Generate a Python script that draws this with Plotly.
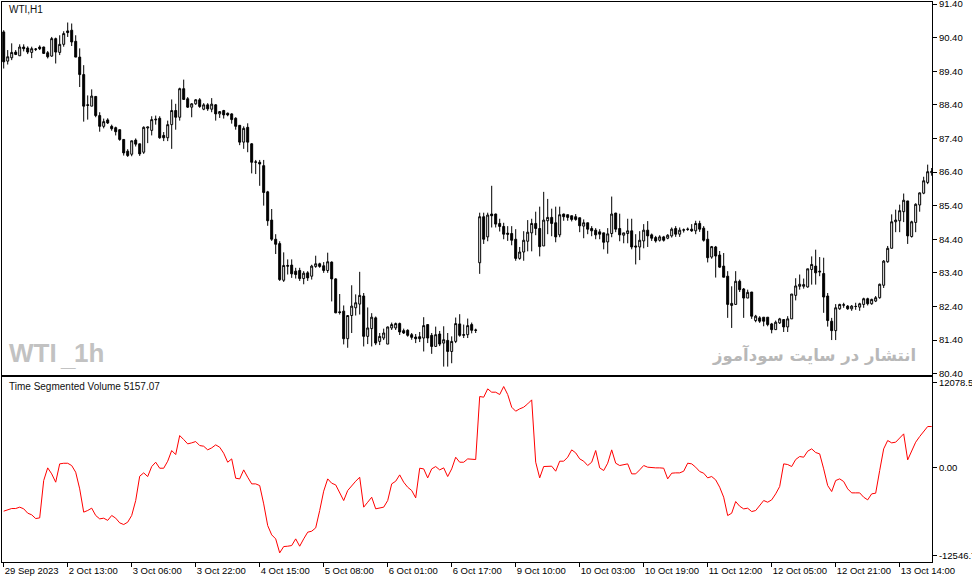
import plotly.graph_objects as go

# WTI, H1 candles (29 Sep 2023 - 13 Oct 2023)
opens = [
    90.57, 89.70, 89.80, 89.97, 89.86, 90.12, 90.09, 89.96, 90.05, 90.12,
    90.12, 89.95, 89.85, 90.37, 89.96, 90.20, 90.60, 90.62, 90.29, 89.82,
    89.30, 88.38, 88.36, 88.65, 88.08, 87.76, 87.95, 87.76, 87.72, 87.66,
    87.37, 87.02, 86.93, 87.35, 87.24, 86.99, 87.71, 87.64, 87.95, 88.00,
    87.49, 87.42, 87.81, 88.23, 88.03, 88.88, 88.58, 88.33, 88.43, 88.55,
    88.27, 88.40, 88.27, 88.40, 88.13, 88.23, 88.15, 88.13, 88.00, 87.79,
    87.29, 87.73, 87.24, 86.69, 86.69, 86.59, 85.81, 84.97, 84.40, 84.27,
    83.18, 83.62, 83.63, 83.45, 83.47, 83.23, 83.40, 83.30, 83.59, 83.67,
    83.61, 83.47, 83.72, 83.22, 82.24, 82.26, 81.44, 82.13, 82.36, 82.47,
    82.71, 81.51, 81.74, 82.06, 81.36, 81.46, 81.28, 81.76, 81.76, 81.89,
    81.68, 81.69, 81.56, 81.49, 81.50, 81.46, 81.86, 81.54, 81.21, 81.58,
    81.31, 81.39, 81.06, 81.36, 81.88, 81.54, 81.56, 81.86, 81.70, 83.70,
    85.07, 84.47, 85.15, 85.15, 84.87, 84.78, 84.58, 84.57, 84.40, 83.83,
    84.02, 84.34, 84.59, 84.87, 84.72, 84.20, 84.95, 85.05, 84.89, 84.53,
    85.15, 85.13, 85.10, 85.07, 85.04, 84.79, 84.89, 84.72, 84.67, 84.62,
    84.59, 84.32, 84.57, 85.18, 84.72, 84.52, 84.57, 84.65, 84.20, 84.17,
    84.35, 84.67, 84.53, 84.45, 84.37, 84.47, 84.43, 84.50, 84.72, 84.55,
    84.67, 84.69, 84.70, 84.65, 84.87, 84.73, 84.40, 83.87, 84.17, 83.93,
    83.60, 83.30, 82.43, 82.46, 83.15, 82.92, 82.65, 82.83, 81.98, 82.06,
    82.08, 82.08, 81.88, 81.71, 81.91, 82.01, 81.79, 82.03, 82.73, 83.00,
    83.00, 82.98, 83.50, 83.60, 83.45, 83.38, 82.71, 81.96, 81.68, 82.33,
    82.45, 82.41, 82.33, 82.40, 82.38, 82.46, 82.63, 82.48, 82.56, 82.66,
    83.03, 83.73, 84.13, 84.92, 84.95, 85.22, 85.54, 84.48, 84.90, 85.42,
    85.77, 86.09, 86.38,
]
highs = [
    90.62, 90.03, 90.23, 90.03, 90.20, 90.20, 90.14, 90.13, 90.09, 90.17,
    90.13, 90.00, 90.42, 90.40, 90.47, 90.59, 90.85, 90.82, 90.47, 90.08,
    89.58, 88.68, 88.86, 88.65, 88.18, 87.99, 88.00, 87.81, 87.75, 87.66,
    87.37, 87.08, 87.33, 87.40, 87.24, 87.76, 87.74, 88.06, 88.08, 88.06,
    87.59, 87.93, 88.56, 88.43, 88.91, 89.15, 88.63, 88.45, 88.57, 88.60,
    88.45, 88.45, 88.60, 88.42, 88.20, 88.25, 88.17, 88.15, 88.03, 87.79,
    87.76, 87.85, 87.26, 86.76, 86.76, 86.76, 85.84, 85.30, 84.55, 84.34,
    84.01, 83.80, 83.80, 83.55, 83.55, 83.45, 83.45, 83.64, 83.91, 83.70,
    83.72, 84.00, 83.74, 83.24, 82.77, 82.43, 82.13, 83.03, 82.76, 83.43,
    82.80, 82.37, 82.20, 82.10, 81.61, 81.74, 81.80, 81.92, 81.92, 81.92,
    81.74, 81.72, 81.61, 81.58, 81.64, 82.08, 81.86, 81.61, 81.80, 81.67,
    81.81, 81.61, 81.51, 82.07, 82.17, 81.86, 82.04, 81.92, 81.74, 85.19,
    85.19, 85.19, 85.99, 85.16, 85.01, 84.89, 84.79, 84.79, 84.70, 84.17,
    84.64, 84.97, 85.01, 85.22, 85.37, 85.81, 85.60, 85.31, 85.37, 85.37,
    85.16, 85.13, 85.10, 85.15, 85.04, 84.99, 84.89, 84.79, 84.73, 84.70,
    84.59, 84.73, 85.67, 85.18, 85.16, 84.59, 85.01, 85.01, 84.55, 84.64,
    84.85, 84.94, 84.57, 84.50, 84.52, 84.50, 84.55, 84.75, 84.79, 84.75,
    84.72, 84.75, 84.85, 84.95, 84.95, 84.79, 84.65, 84.20, 84.20, 84.05,
    83.99, 83.45, 83.00, 83.45, 83.20, 82.95, 82.90, 82.83, 82.15, 82.11,
    82.08, 82.08, 81.91, 81.98, 82.06, 82.01, 82.11, 82.77, 83.24, 83.35,
    83.23, 83.52, 83.89, 84.09, 83.87, 83.85, 82.80, 82.06, 82.47, 82.48,
    82.51, 82.44, 82.44, 82.51, 82.51, 82.66, 82.66, 82.63, 82.71, 83.08,
    83.78, 84.20, 85.14, 85.28, 85.43, 85.76, 85.54, 84.95, 85.47, 85.79,
    86.26, 86.62, 86.52,
]
lows = [
    89.48, 89.60, 89.73, 89.88, 89.86, 89.99, 89.91, 89.79, 90.00, 90.03,
    89.92, 89.78, 89.83, 89.63, 89.88, 90.13, 90.42, 90.15, 89.82, 88.93,
    87.90, 87.96, 88.36, 88.03, 87.60, 87.70, 87.83, 87.63, 87.49, 87.33,
    86.89, 86.85, 86.87, 87.16, 86.88, 86.94, 87.26, 87.49, 87.81, 87.39,
    87.32, 87.32, 87.09, 87.66, 87.93, 88.56, 88.31, 88.03, 88.40, 88.31,
    88.24, 88.22, 88.18, 87.93, 88.01, 87.99, 88.06, 87.84, 87.66, 87.20,
    87.09, 86.99, 86.36, 86.34, 85.99, 85.40, 84.80, 84.35, 83.96, 83.16,
    83.13, 83.35, 83.25, 83.23, 83.16, 83.06, 83.16, 83.20, 83.55, 83.55,
    83.40, 83.40, 82.55, 82.20, 82.16, 81.27, 81.17, 81.61, 82.13, 82.16,
    81.21, 81.28, 81.21, 81.25, 81.25, 81.40, 81.28, 81.70, 81.70, 81.55,
    81.58, 81.50, 81.41, 81.31, 81.34, 81.06, 81.31, 80.99, 81.21, 81.22,
    80.61, 80.61, 80.71, 81.31, 81.50, 81.46, 81.46, 81.60, 81.61, 83.37,
    84.26, 84.34, 84.75, 84.75, 84.63, 84.40, 84.35, 84.22, 83.76, 83.79,
    83.76, 84.04, 84.04, 84.52, 83.89, 84.20, 84.55, 84.49, 84.31, 84.46,
    84.95, 84.95, 84.93, 84.95, 84.61, 84.43, 84.55, 84.49, 84.40, 84.40,
    84.10, 83.97, 84.46, 84.61, 84.34, 84.28, 84.28, 84.10, 83.65, 83.78,
    84.13, 84.17, 84.35, 84.30, 84.33, 84.33, 84.40, 84.45, 84.47, 84.47,
    84.60, 84.65, 84.62, 84.55, 84.62, 84.33, 83.71, 83.82, 83.26, 83.55,
    83.27, 82.06, 81.76, 82.46, 82.83, 82.06, 82.65, 82.03, 81.93, 81.91,
    81.81, 81.81, 81.60, 81.71, 81.88, 81.64, 81.64, 82.03, 82.58, 82.90,
    82.93, 82.96, 83.05, 83.05, 83.30, 82.21, 81.80, 81.40, 81.40, 82.30,
    82.36, 82.30, 82.27, 82.30, 82.27, 82.36, 82.43, 82.45, 82.53, 82.63,
    82.95, 83.70, 84.13, 84.61, 84.61, 84.91, 84.26, 84.45, 84.61, 85.22,
    85.74, 86.04, 86.29,
]
closes = [
    89.68, 89.83, 89.96, 89.90, 90.12, 90.07, 89.97, 90.07, 90.06, 90.07,
    89.93, 89.83, 90.37, 89.97, 90.20, 90.52, 90.55, 90.27, 89.82, 89.30,
    88.36, 88.40, 88.66, 88.08, 87.76, 87.90, 87.86, 87.69, 87.60, 87.37,
    86.97, 86.89, 87.33, 87.23, 86.94, 87.73, 87.74, 87.96, 87.97, 87.42,
    87.42, 87.81, 88.23, 88.03, 88.88, 88.56, 88.33, 88.43, 88.55, 88.35,
    88.40, 88.28, 88.42, 88.13, 88.20, 88.10, 88.10, 87.96, 87.76, 87.29,
    87.70, 87.29, 86.69, 86.70, 86.64, 85.79, 84.95, 84.40, 84.25, 83.20,
    83.62, 83.60, 83.37, 83.35, 83.23, 83.39, 83.25, 83.60, 83.67, 83.59,
    83.47, 83.73, 83.22, 82.21, 82.22, 81.44, 82.13, 82.41, 82.51, 82.73,
    81.51, 81.76, 82.08, 81.31, 81.51, 81.61, 81.79, 81.86, 81.89, 81.64,
    81.61, 81.54, 81.48, 81.44, 81.44, 81.83, 81.46, 81.21, 81.56, 81.28,
    81.41, 81.06, 81.36, 81.89, 81.54, 81.56, 81.83, 81.69, 81.69, 85.07,
    84.40, 85.12, 85.10, 84.85, 84.78, 84.55, 84.55, 84.37, 83.83, 84.02,
    84.37, 84.61, 84.87, 84.72, 84.18, 84.97, 85.05, 84.87, 84.47, 85.13,
    85.07, 85.05, 84.99, 84.99, 84.80, 84.89, 84.70, 84.65, 84.53, 84.55,
    84.31, 84.56, 85.15, 84.70, 84.53, 84.59, 84.65, 84.17, 84.17, 84.37,
    84.67, 84.50, 84.43, 84.35, 84.47, 84.37, 84.52, 84.70, 84.55, 84.67,
    84.68, 84.70, 84.65, 84.87, 84.70, 84.37, 83.85, 84.18, 83.90, 83.57,
    83.27, 82.46, 82.49, 83.15, 82.90, 82.65, 82.82, 82.11, 82.11, 81.96,
    81.96, 81.86, 81.71, 81.93, 82.03, 81.79, 82.03, 82.77, 83.01, 83.06,
    83.05, 83.52, 83.65, 83.40, 83.43, 82.68, 81.98, 81.68, 82.36, 82.46,
    82.44, 82.33, 82.41, 82.40, 82.48, 82.63, 82.48, 82.61, 82.66, 83.06,
    83.75, 84.13, 84.92, 84.97, 85.25, 85.56, 84.50, 84.92, 85.44, 85.78,
    86.14, 86.41, 86.42,
]

# Time Segmented Volume indicator, one value per bar
tsv = [
    -6206, -6021, -5832, -5832, -5637, -5870, -6490, -6727, -7259, -7164,
    -1850, -43, -897, -2083, 527, 612, 612, 285, -664, -3032,
    -6348, -6111, -5779, -6822, -7302, -7207, -7520, -6822, -7201, -7871,
    -8108, -7776, -6822, -4697, -1233, -759, -1281, 142, 759, -95,
    -95, 901, 2420, 1850, 4555, 3986, 3373, 3516, 3700, 3131,
    3036, 2520, 2800, 3230, 2895, 2040, 759, 1233, -1518, -1612,
    -330, -1375, -2325, -2325, -2562, -5167, -8256, -9580, -10149, -12142,
    -11244, -11196, -11100, -10149, -11196, -10149, -9200, -9060, -8583, -6111,
    -3359, -1612, -2230, -2467, -3508, -4697, -3270, -2562, -1945, -1375,
    -5637, -4935, -4223, -5874, -5732, -5637, -4697, -2325, -1945, -1044,
    -2088, -2800, -3270, -4318, -95, -190, -1470, -190, 142, -330,
    -43, -1281, -190, 1470, 759, 759, 1233, 1233, 1143, 10110,
    10015, 11202, 10727, 10727, 10395, 11534, 10395, 8592, 8023, 8355,
    8592, 9066, 9636, 763, -1467, 146, 194, 194, -518, 906,
    906, 1475, 2519, 2091, 1238, 906, 289, 763, 2424, -44,
    -423, 621, 2519, 621, 289, 384, 526, -898, -898, -328,
    289, 51, -44, -44, -44, -91, -1610, -803, -755, -755,
    -518, 621, 526, 51, -565, -803, -1467, -1277, -1752, -2796,
    -4220, -6830, -6498, -4837, -5502, -5881, -5786, -6261, -6118, -5407,
    -4694, -4932, -4600, -3745, -2701, 526, 431, 146, 1143, 1570,
    1475, 2329, 2661, 2139, 1949, -186, -2559, -3413, -1847, -1610,
    -1990, -3034, -3603, -3603, -3603, -4220, -4600, -3745, -3650, -423,
    2661, 3848, 3516, 3611, 4228, 4797, 1096, 2424, 3611, 4417,
    5177, 5841, 5841,
]
tsv_last = 5157.07

time_labels = [
    "29 Sep 2023", "2 Oct 13:00", "3 Oct 06:00", "3 Oct 22:00", "4 Oct 15:00",
    "5 Oct 08:00", "6 Oct 01:00", "6 Oct 17:00", "9 Oct 10:00", "10 Oct 03:00",
    "10 Oct 19:00", "11 Oct 12:00", "12 Oct 05:00", "12 Oct 21:00", "13 Oct 14:00",
]
time_label_bars = [0, 16, 32, 48, 64, 80, 96, 112, 128, 144, 160, 176, 192, 208, 224]
price_ticks = [80.4, 81.4, 82.4, 83.4, 84.4, 85.4, 86.4, 87.4, 88.4, 89.4, 90.4, 91.4]
tsv_ticks = [12078.5, 0.0, -12546.7]
tsv_tick_text = ["12078.5", "0.00", "-12546.7"]

bars = list(range(len(closes)))

W, H = 972, 584
ML, MR, MT, MB = 2, 40, 2, 22


def xp(px):
    # pixel x -> paper
    return (px - ML) / (W - ML - MR)


def yp(py):
    # pixel y -> paper
    return (H - MB - py) / (H - MT - MB)


FONT = "Liberation Sans, Arial, sans-serif"
xr = [-0.425, 232.08]

fig = go.Figure()

fig.add_trace(go.Candlestick(
    x=bars, open=opens, high=highs, low=lows, close=closes,
    increasing=dict(line=dict(color="black", width=1), fillcolor="white"),
    decreasing=dict(line=dict(color="black", width=1), fillcolor="black"),
    whiskerwidth=0,
    xaxis="x", yaxis="y",
    showlegend=False,
))

fig.add_trace(go.Scatter(
    x=bars, y=tsv, mode="lines",
    line=dict(color="#ff0000", width=1),
    xaxis="x2", yaxis="y2",
    showlegend=False,
))

axis_common = dict(
    showline=True, linecolor="black", linewidth=1, mirror=True,
    showgrid=False, zeroline=False, automargin=False,
    tickfont=dict(family=FONT, size=9.5, color="black"),
    tickcolor="black",
)

fig.update_layout(
    width=W, height=H,
    margin=dict(l=ML, r=MR, t=MT, b=MB),
    paper_bgcolor="white", plot_bgcolor="white",
    showlegend=False,
    xaxis=dict(domain=[0, 1], anchor="y", range=xr, showticklabels=False,
               ticks="", rangeslider=dict(visible=False), **axis_common),
    xaxis2=dict(domain=[0, 1], anchor="y2", range=xr, matches="x",
                tickmode="array", tickvals=time_label_bars, ticktext=time_labels,
                ticks="outside", ticklen=4, tickangle=0,
                ticklabelposition="outside right", **axis_common),
    yaxis=dict(domain=[yp(375), 1], anchor="x", side="right",
               range=[80.36, 91.46], tickmode="array", tickvals=price_ticks,
               ticktext=[f"{v:.2f}" for v in price_ticks],
               ticks="outside", ticklen=4, ticklabeloverflow="allow",
               **axis_common),
    yaxis2=dict(domain=[0, yp(377)], anchor="x2", side="right",
                range=[-13443, 12890], tickmode="array", tickvals=tsv_ticks,
                ticktext=tsv_tick_text, ticks="outside", ticklen=4,
                ticklabeloverflow="allow", **axis_common),
)

fig.add_annotation(x=xp(7), y=yp(10), xref="paper", yref="paper",
                   text="WTI,H1", showarrow=False, xanchor="left", yanchor="middle",
                   font=dict(family=FONT, size=10, color="#101010"))
fig.add_annotation(x=xp(7), y=yp(386), xref="paper", yref="paper",
                   text=f"Time Segmented Volume {tsv_last:.2f}", showarrow=False,
                   xanchor="left", yanchor="middle",
                   font=dict(family=FONT, size=10, color="#101010"))

# grey watermarks
wm_font = dict(family=FONT, size=26, color="#c2c2c2")
fig.add_annotation(x=xp(7), y=yp(353), xref="paper", yref="paper",
                   text="<b>WTI</b>", showarrow=False, xanchor="left",
                   yanchor="middle", font=wm_font)
fig.add_annotation(x=xp(58), y=yp(357), xref="paper", yref="paper",
                   text="<b>_</b>", showarrow=False, xanchor="left",
                   yanchor="middle", font=wm_font)
fig.add_annotation(x=xp(106), y=yp(353), xref="paper", yref="paper",
                   text="<b>1h</b>", showarrow=False, xanchor="right",
                   yanchor="middle", font=wm_font)
fig.add_annotation(x=xp(918), y=yp(355), xref="paper", yref="paper",
                   text="<b>انتشار در سایت سودآموز</b>", showarrow=False,
                   xanchor="right", yanchor="middle",
                   font=dict(family="DejaVu Sans, sans-serif", size=16.5, color="#b8b8b8"))

fig.write_html("out.html", config={"displayModeBar": False},
               post_script="document.body.style.margin='0px';")
